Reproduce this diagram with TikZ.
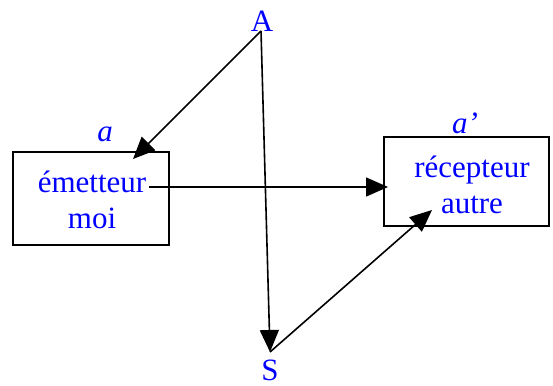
\documentclass[tikz,border=0pt]{standalone}
\usepackage{fontspec}
\setmainfont{Liberation Serif}
\usetikzlibrary{arrows.meta}
\begin{document}
\begin{tikzpicture}[x=1pt,y=-1pt,
  lbl/.style={text=blue,font=\fontsize{31}{36}\selectfont,inner sep=0pt},
  boxtxt/.style={text=blue,font=\fontsize{31}{36}\selectfont,align=center,inner sep=0pt},
  frame/.style={draw=black,line width=1.6pt},
  conn/.style={line width=1.6pt,-{Triangle[length=22pt,width=19pt]}}]
\useasboundingbox (0,0) rectangle (553,385);
\draw[frame] (13,152) rectangle (169,245);
\draw[frame] (384,137) rectangle (549,226);
\node[boxtxt] (em) at (92,200) {émetteur\\moi};
\node[boxtxt] (rec) at (472,185) {récepteur\\autre};
\node[lbl,font=\fontsize{31}{36}\selectfont\itshape] (a) at (105,134) {a};
\node[lbl,font=\fontsize{31}{36}\selectfont\itshape] (ap) at (465,123) {a’};
\node[lbl] (A) at (262,21) {A};
\node[lbl] (S) at (270,370) {S};
\coordinate (Apt) at (261,31);
\coordinate (Spt) at (270,352);
\coordinate (emTip) at (133,159);
\coordinate (emOut) at (149,187);
\coordinate (recIn) at (388,187);
\coordinate (recTip) at (432,210);
\draw[conn] (Apt) -- (emTip);
\draw[conn] (Apt) -- (Spt);
\draw[conn] (Spt) -- (recTip);
\draw[conn] (emOut) -- (recIn);
\end{tikzpicture}
\end{document}
